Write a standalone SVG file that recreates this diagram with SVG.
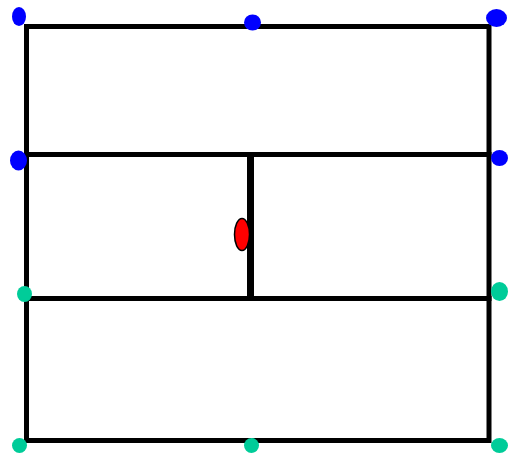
<svg xmlns="http://www.w3.org/2000/svg" width="522" height="454" viewBox="0 0 522 454">
<style>
.wall{stroke:#000;stroke-width:5;fill:none;stroke-linecap:square}
.b{fill:#0000ff}
.g{fill:#00cc99}
.r{fill:#ff0000;stroke:#000;stroke-width:1.5}
</style>
<rect width="522" height="454" fill="#fff"/>
<g id="connectors">
<rect class="wall" x="26.5" y="26.5" width="462.5" height="414"/>
<line class="wall" x1="26.5" y1="154.5" x2="489" y2="154.5"/>
<line class="wall" x1="26.5" y1="298.5" x2="489" y2="298.5"/>
<line class="wall" x1="250.5" y1="154.5" x2="250.5" y2="298.5" style="stroke-width:7;stroke-linecap:butt"/>
</g>
<g id="n1"><ellipse class="b" cx="19" cy="16.5" rx="7" ry="9.5"/></g>
<g id="n2"><ellipse class="b" cx="252.5" cy="22.5" rx="8.5" ry="8"/></g>
<g id="n3"><ellipse class="b" cx="496.5" cy="18" rx="10.5" ry="9"/></g>
<g id="n4"><ellipse class="b" cx="18.5" cy="160.5" rx="8.5" ry="10"/></g>
<g id="n5"><ellipse class="b" cx="499.5" cy="158" rx="8.5" ry="8"/></g>
<g id="n6"><ellipse class="r" cx="242" cy="234.5" rx="7.5" ry="16"/></g>
<g id="n7"><ellipse class="g" cx="24.5" cy="294" rx="7.5" ry="8"/></g>
<g id="n8"><ellipse class="g" cx="499.5" cy="291.5" rx="8.5" ry="9.5"/></g>
<g id="n9"><ellipse class="g" cx="19.5" cy="445.5" rx="7.5" ry="7.5"/></g>
<g id="n10"><ellipse class="g" cx="251.5" cy="445.5" rx="7.5" ry="7.5"/></g>
<g id="n11"><ellipse class="g" cx="499.5" cy="445.5" rx="8.5" ry="7.5"/></g>
</svg>
